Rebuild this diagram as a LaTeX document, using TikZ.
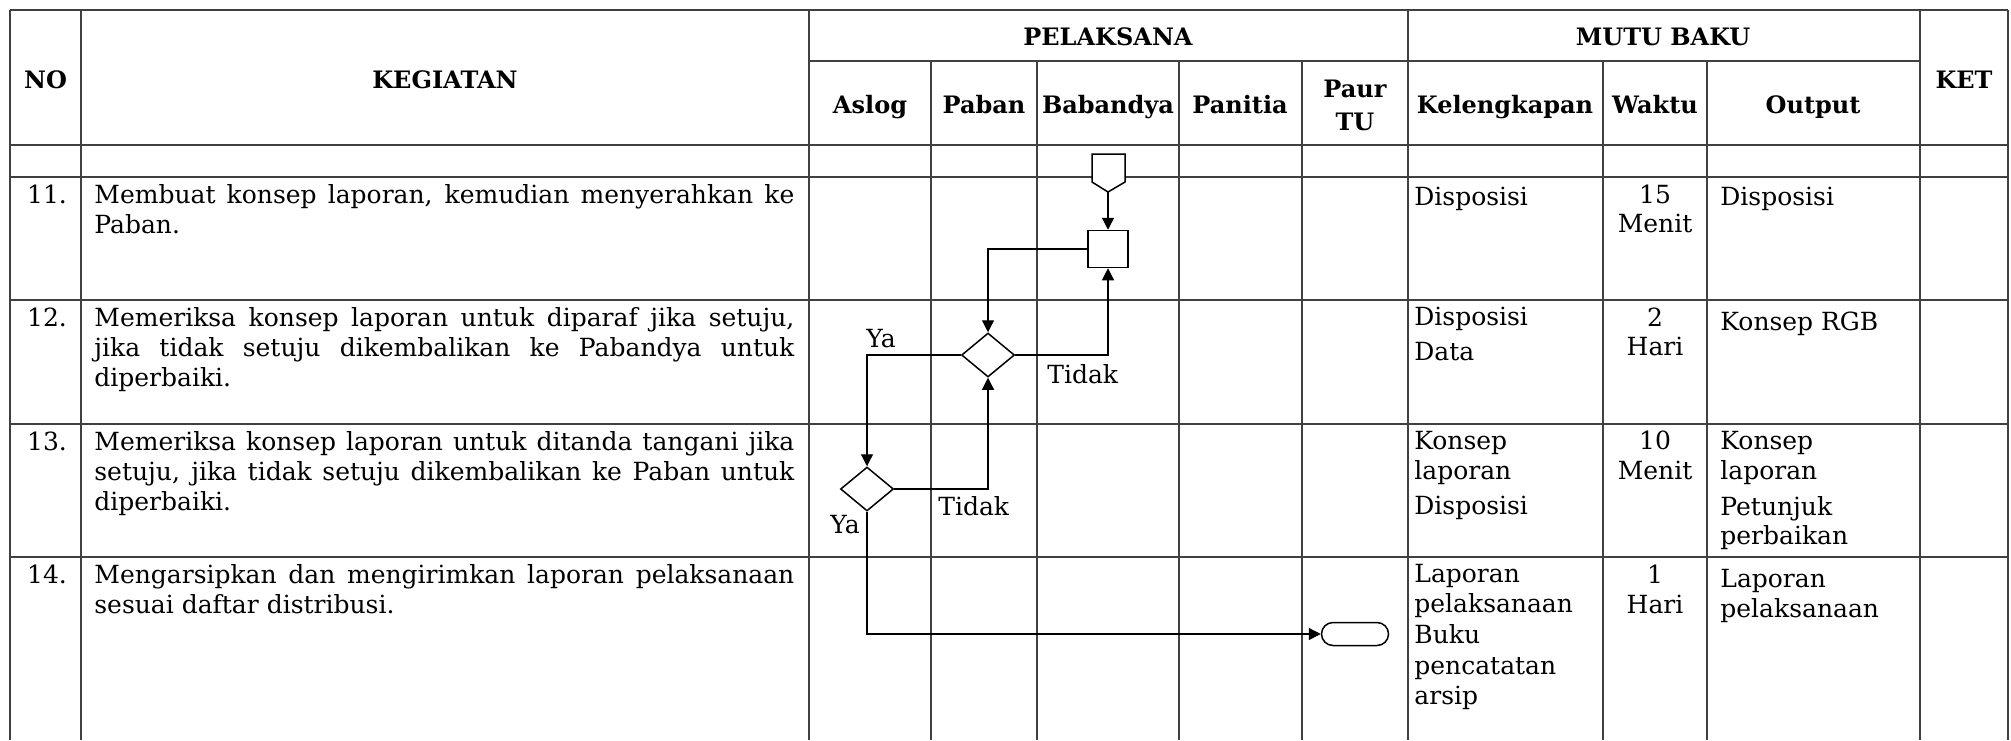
\documentclass[tikz,border=0pt]{standalone}
\usepackage{fontspec}
\setmainfont{DejaVu Serif}
\usetikzlibrary{shapes.geometric,arrows.meta}
\begin{document}
\begin{tikzpicture}[x=0.5pt,y=-0.5pt,
  grid/.style={draw=black!75,line width=0.75pt},
  gridd/.style={draw=black!75,line width=1.3pt},
  hd/.style={font=\fontsize{12}{14}\bfseries\selectfont, anchor=base, inner sep=0},
  tx/.style={font=\fontsize{12.5}{15}\selectfont, anchor=base west, inner sep=0},
  tc/.style={tx, anchor=base},
  flow/.style={draw=black, line width=0.6pt},
  arr/.style={flow, -{Triangle[length=6pt,width=6pt]}},
  proc/.style={draw, line width=0.75pt, minimum width=20pt, minimum height=18.5pt, inner sep=0, fill=white},
  dec/.style={diamond, draw, line width=0.75pt, minimum width=26.5pt, minimum height=22pt, inner sep=0, fill=white},
  term/.style={draw, line width=0.75pt, rounded corners=5.75pt, minimum width=33.5pt, minimum height=11.5pt, inner sep=0, fill=white},
  lbl/.style={font=\fontsize{12.5}{14}\selectfont, inner sep=0, anchor=base west}
]
\fill[white] (0,0) rectangle (2011,740);
\useasboundingbox (0,0) rectangle (2011,740);

% horizontal lines
\draw[grid] (10,10) -- (2008,10);
\draw[grid] (809,61) -- (1920,61);
\draw[gridd] (10,145) -- (2008,145);
\draw[grid] (10,177) -- (2008,177);
\draw[grid] (10,300) -- (2008,300);
\draw[gridd] (10,424) -- (2008,424);
\draw[grid] (10,557) -- (2008,557);
% vertical lines
\foreach \xx in {10,81,809,1408,1920,2008} \draw[grid] (\xx,10) -- (\xx,740);
\foreach \xx in {931,1037,1179,1302,1603,1707} \draw[grid] (\xx,61) -- (\xx,740);

% headers
\node[hd] (hno) at (45.5,88) {NO};
\node[hd] (hkeg) at (445,88) {KEGIATAN};
\node[hd] (hpel) at (1108,45) {PELAKSANA};
\node[hd] (hmutu) at (1663,45) {MUTU BAKU};
\node[hd] (hket) at (1964,88) {KET};
\node[hd] (haslog) at (870,113) {Aslog};
\node[hd] (hpaban) at (984,113) {Paban};
\node[hd] (hbab) at (1108,113) {Babandya};
\node[hd] (hpan) at (1240,113) {Panitia};
\node[hd] (hpaur) at (1355,97) {Paur};
\node[hd] (htu) at (1355,130) {TU};
\node[hd] (hkel) at (1505,113) {Kelengkapan};
\node[hd] (hwak) at (1655,113) {Waktu};
\node[hd] (hout) at (1813,113) {Output};

% row numbers
\node[tc] (n11) at (47,203) {11.};
\node[tc] (n12) at (47,326) {12.};
\node[tc] (n13) at (47,450) {13.};
\node[tc] (n14) at (47,583) {14.};

% kegiatan
\node[tx] (k11a) at (94,203) {\makebox[350pt][s]{Membuat konsep laporan, kemudian menyerahkan ke}};
\node[tx] (k11b) at (94,233) {Paban.};
\node[tx] (k12a) at (94,326) {\makebox[350pt][s]{Memeriksa konsep laporan untuk diparaf jika setuju,}};
\node[tx] (k12b) at (94,356) {\makebox[350pt][s]{jika tidak setuju dikembalikan ke Pabandya untuk}};
\node[tx] (k12c) at (94,386) {diperbaiki.};
\node[tx] (k13a) at (94,450) {\makebox[350pt][s]{Memeriksa konsep laporan untuk ditanda tangani jika}};
\node[tx] (k13b) at (94,480) {\makebox[350pt][s]{setuju, jika tidak setuju dikembalikan ke Paban untuk}};
\node[tx] (k13c) at (94,510) {diperbaiki.};
\node[tx] (k14a) at (94,583) {\makebox[350pt][s]{Mengarsipkan dan mengirimkan laporan pelaksanaan}};
\node[tx] (k14b) at (94,613) {sesuai daftar distribusi.};

% kelengkapan
\node[tx] (l11) at (1414,205) {Disposisi};
\node[tx] (l12a) at (1414,325) {Disposisi};
\node[tx] (l12b) at (1414,360) {Data};
\node[tx] (l13a) at (1414,449) {Konsep};
\node[tx] (l13b) at (1414,479) {laporan};
\node[tx] (l13c) at (1414,514) {Disposisi};
\node[tx] (l14a) at (1414,582) {Laporan};
\node[tx] (l14b) at (1414,612) {pelaksanaan};
\node[tx] (l14c) at (1414,643) {Buku};
\node[tx] (l14d) at (1414,674) {pencatatan};
\node[tx] (l14e) at (1414,704) {arsip};

% waktu
\node[tc] (w11a) at (1655,203) {15};
\node[tc] (w11b) at (1655,232) {Menit};
\node[tc] (w12a) at (1655,326) {2};
\node[tc] (w12b) at (1655,355) {Hari};
\node[tc] (w13a) at (1655,449) {10};
\node[tc] (w13b) at (1655,479) {Menit};
\node[tc] (w14a) at (1655,583) {1};
\node[tc] (w14b) at (1655,613) {Hari};

% output
\node[tx] (o11) at (1720,205) {Disposisi};
\node[tx] (o12) at (1720,330) {Konsep RGB};
\node[tx] (o13a) at (1720,449) {Konsep};
\node[tx] (o13b) at (1720,479) {laporan};
\node[tx] (o13c) at (1720,515) {Petunjuk};
\node[tx] (o13d) at (1720,544) {perbaikan};
\node[tx] (o14a) at (1720,587) {Laporan};
\node[tx] (o14b) at (1720,617) {pelaksanaan};

% flowchart
\draw[line width=0.75pt, fill=white] (1092,154) -- (1125,154) -- (1125,182) -- (1108,192) -- (1092,182) -- cycle;
\coordinate (opc) at (1108,192);
\node[proc] (p11) at (1108,249) {};
\node[dec] (d12) at (988,355) {};
\node[dec] (d13) at (867,489) {};
\node[term] (t14) at (1355,634) {};

\draw[arr] (opc) -- (p11);
\draw[arr] (p11.west) -| (d12);
\draw[arr] (d12.east) -| (p11);
\draw[arr] (d12.west) -| (d13);
\draw[arr] (d13.east) -| (d12);
\draw[arr] (d13.south) |- (t14.west);

\node[lbl] (lt12) at (1047,383) {Tidak};
\node[lbl] (ly12) at (866,347) {Ya};
\node[lbl] (lt13) at (938,515) {Tidak};
\node[lbl] (ly13) at (830,533) {Ya};
\end{tikzpicture}
\end{document}
